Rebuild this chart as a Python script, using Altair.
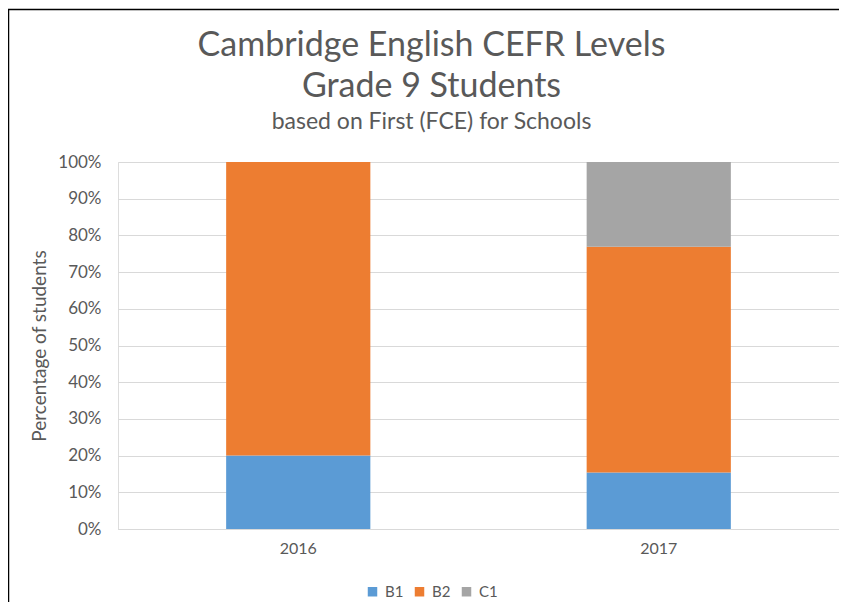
import altair as alt
import pandas as pd

years = ["2016", "2017"]
levels = ["B1", "B2", "C1"]
b1 = [0.20, 0.154]
b2 = [0.80, 0.615]
c1 = [0.00, 0.231]
colors = ["#5B9BD5", "#ED7D31", "#A5A5A5"]
y_ticks = [0.0, 0.1, 0.2, 0.3, 0.4, 0.5, 0.6, 0.7, 0.8, 0.9, 1.0]

rows = []
for i, yr in enumerate(years):
    for j, (lvl, vals) in enumerate(zip(levels, [b1, b2, c1])):
        rows.append({"year": yr, "level": lvl, "value": vals[i], "order": j})
df = pd.DataFrame(rows)

FONT = "Lato"
TXT = "#595959"

bars = alt.Chart(df).mark_bar().encode(
    x=alt.X("year:N", title=None,
            scale=alt.Scale(paddingInner=0.6, paddingOuter=0.3),
            axis=alt.Axis(labelAngle=0, labelFontSize=16, labelColor=TXT,
                          labelFont=FONT, labelPadding=11, ticks=False,
                          domainColor="#D9D9D9", grid=False)),
    y=alt.Y("value:Q", stack="zero", title="Percentage of students",
            scale=alt.Scale(domain=[0, 1], nice=False),
            axis=alt.Axis(values=y_ticks, format=".0%", labelFontSize=17,
                          labelColor=TXT, labelFont=FONT, labelPadding=17,
                          ticks=False, domain=False, gridColor="#D9D9D9",
                          titleFontSize=19, titleFont=FONT, titleColor=TXT,
                          titleFontWeight="normal", titlePadding=8)),
    color=alt.Color("level:N", scale=alt.Scale(domain=levels, range=colors),
                    legend=alt.Legend(title=None, orient="none", direction="horizontal",
                                      legendX=247, legendY=422, symbolType="square",
                                      symbolSize=90, symbolStrokeWidth=0,
                                      labelFontSize=15, labelFont=FONT, labelColor=TXT,
                                      labelOffset=5, columnPadding=8)),
    order=alt.Order("order:Q", sort="ascending"),
)

frame_df = pd.DataFrame({"k": [0]})
frame = alt.Chart(frame_df).mark_rect(fill=None, filled=False, stroke="#000000",
                                      strokeWidth=1.5).encode(
    x=alt.value(-109.5), x2=alt.value(1000), y=alt.value(-152.5), y2=alt.value(1000))

chart = alt.layer(bars, frame).properties(
    width=721,
    height=367,
    padding={"left": 110, "top": 154, "right": 0, "bottom": 73},
    autosize=alt.AutoSizeParams(type="none"),
    title=alt.TitleParams(
        text=["Cambridge English CEFR Levels", "Grade 9 Students"],
        subtitle="based on First (FCE) for Schools",
        anchor="middle", frame="group", dx=-47, dy=153,
        font=FONT, fontSize=34, fontWeight="normal", color=TXT, lineHeight=41,
        subtitleFont=FONT, subtitleFontSize=23, subtitleColor=TXT,
        subtitlePadding=7, offset=28,
    ),
).configure_view(stroke=None).configure(background="white")

chart.save("out.html", embed_options={"renderer": "svg", "actions": False})
